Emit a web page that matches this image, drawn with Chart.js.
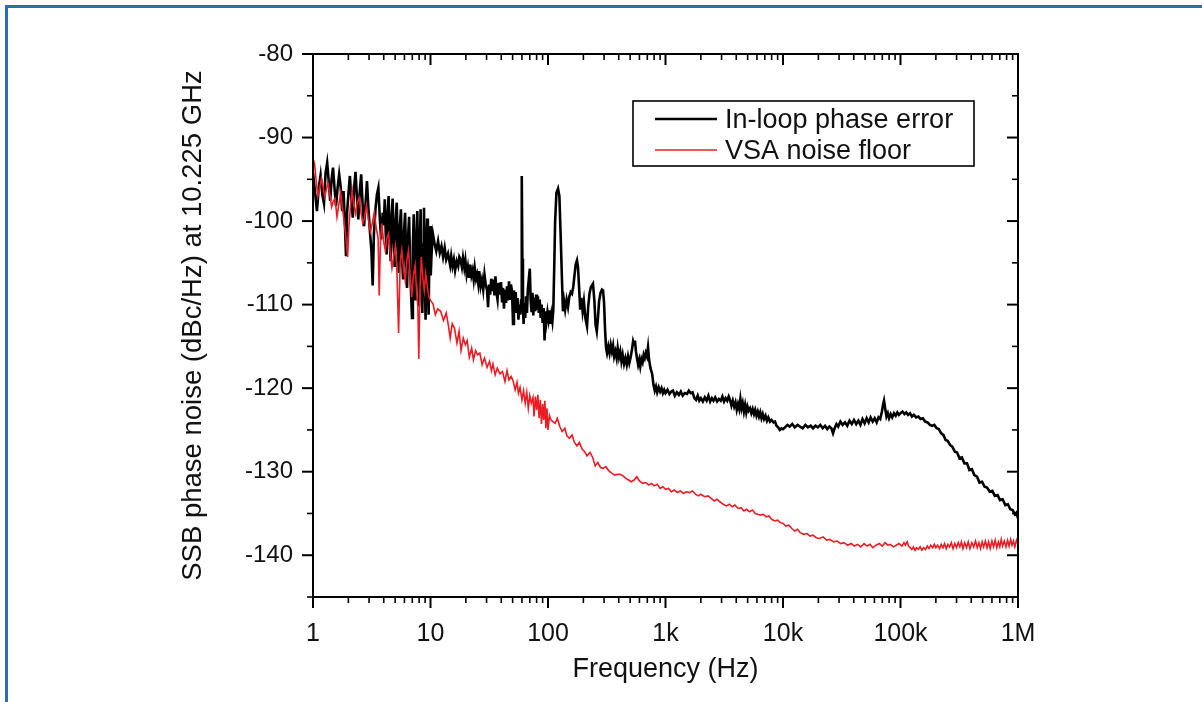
<!DOCTYPE html>
<html>
<head>
<meta charset="utf-8">
<title>SSB phase noise</title>
<script src="https://cdn.jsdelivr.net/npm/chart.js@4.4.1/dist/chart.umd.min.js"></script>
<style>
  html, body { margin: 0; padding: 0; background: #fff; }
  #wrap { width: 1202px; height: 702px; position: relative; }
</style>
</head>
<body>
<div id="wrap"><canvas id="c" width="1202" height="702"></canvas></div>
<script>
// In-loop phase error: frequency (Hz) and SSB phase noise (dBc/Hz)
const loopFreq = [
  1.00, 1.04, 1.08, 1.12, 1.16, 1.20, 1.24, 1.28, 1.32, 1.36, 1.40, 1.44, 1.48, 1.52, 1.57, 1.62, 1.67, 1.72, 1.77, 1.82,
  1.87, 1.91, 1.95, 2.00, 2.06, 2.12, 2.18, 2.24, 2.30, 2.36, 2.43, 2.50, 2.57, 2.64, 2.72, 2.80, 2.88, 2.96, 3.05, 3.14,
  3.22, 3.30, 3.40, 3.50, 3.60, 3.70, 3.80, 3.92,
  4.00, 4.08, 4.16, 4.24, 4.32, 4.40, 4.49, 4.58, 4.67, 4.76, 4.86, 4.96, 5.06, 5.16, 5.27, 5.38, 5.49, 5.60, 5.72, 5.84,
  5.96, 6.08, 6.20, 6.32, 6.45, 6.58, 6.71, 6.84, 6.96, 7.08, 7.20, 7.33, 7.46, 7.59, 7.72, 7.85, 7.98, 8.11, 8.24, 8.38,
  8.52, 8.66, 8.80, 8.94, 9.08, 9.22, 9.36, 9.50, 9.64, 9.78, 9.92, 10.05, 10.2, 10.5,
  10.8, 11.2, 11.6, 12.0, 12.4, 12.8, 13.2, 13.6, 14.1, 14.7, 15.0, 15.4, 15.8, 16.2, 16.7, 17.2, 17.6, 18.0, 18.5, 18.9,
  19.4, 19.8, 20.3, 20.8, 21.3, 21.8, 22.3, 22.8, 23.3, 23.8, 24.4, 24.9, 25.5, 26.0, 26.7, 27.4, 28.1, 28.8, 29.5, 30.3,
  30.9, 31.5, 32.2, 32.9, 33.5, 34.2, 35.0, 35.7, 36.4, 37.2, 38.0, 39.0, 39.8, 40.6, 41.4, 42.2, 43.0, 43.9, 44.8, 45.7,
  46.6, 47.5, 48.4, 49.4, 50.4, 51.3, 52.2, 53.1, 54.1, 55.0, 56.0, 57.0, 58.0, 59.0, 59.6, 60.0, 60.5, 61.2, 62.0, 63.0,
  64.0, 65.0, 66.2, 67.4, 68.6, 70.0, 71.2, 72.5, 73.8, 75.0, 76.4, 77.8, 79.2, 80.6, 82.0, 83.5, 85.0, 86.6, 88.2, 90.0,
  91.8, 93.5, 95.2, 97.0, 99.0, 101, 103, 105, 107, 109, 111, 113, 115, 118, 121.7, 125, 128, 131.5, 134, 137,
  140, 144, 148, 152, 156, 160, 164, 168, 172, 176.5, 180, 184, 188, 192, 197, 202, 208, 214.8, 220, 226,
  232, 241.5, 248, 254, 260, 266.5, 272, 280, 288, 294, 300, 306, 312, 318, 326, 334, 342, 350, 358, 366,
  375, 384, 392, 402, 412, 422, 432, 444, 456, 468, 480, 492, 505, 518, 530, 540, 550, 560, 572, 585,
  598, 610, 624, 638, 652, 666, 680, 695, 710, 725, 745, 770, 790, 810, 830, 850, 875, 900, 925, 950,
  975, 1000, 1040, 1080, 1120, 1158, 1200, 1250, 1300, 1350, 1400, 1460, 1524, 1580, 1640, 1700, 1760, 1820, 1880, 1940,
  2000, 2080, 2160, 2240, 2320, 2400, 2480, 2560, 2650, 2750, 2850, 2950, 3050, 3150, 3250, 3350, 3450, 3540, 3640, 3740,
  3840, 3940, 4040, 4140, 4240, 4340, 4440, 4540, 4650, 4760, 4870, 4980, 5100, 5240, 5380, 5520, 5660, 5800, 5950, 6100,
  6250, 6400, 6560, 6720, 6900, 7100, 7300, 7500, 7750, 8000, 8300, 8550, 8800, 9100, 9400, 9700, 10000, 10400, 10900, 11400,
  12000, 12600, 13300, 13960, 14700, 15500, 16300, 17200, 18000, 18900, 19800, 20800, 21800, 22800, 23800, 24800, 25800, 26650, 27500, 28500,
  29500, 30800, 32200, 33700, 35200, 36800, 38500, 40200, 42000, 43800, 45600, 47500, 49500, 51500, 53600, 55700, 58000, 60300, 62700, 65000,
  67200, 69500, 71000, 72400, 74000, 76000, 78000, 80000, 82500, 85000, 88000, 91000, 94000, 97000, 100000, 104000, 108000, 112000, 116000, 120500,
  125000, 130000, 136000, 142000, 148000, 155000, 162000, 170000, 178000, 186000, 194000, 203000, 212000, 222000, 232000, 242000, 252000, 264000, 276000, 290000,
  303000, 318000, 333000, 350000, 368000, 386000, 405000, 425000, 448000, 470000, 495000, 520000, 545000, 575000, 605000, 635000, 670000, 703000, 740000, 780000,
  820000, 860000, 900000, 940000, 970000, 1000000
];
const loopDb = [
  -94.2, -96.5, -98.8, -96.0, -94.5, -96.8, -97.9, -94.2, -93.0, -95.2, -97.6, -95.0, -93.6, -95.8, -98.2, -96.0, -94.4, -95.9, -98.8, -96.4,
  -100.5, -104.2, -99.0, -96.8, -94.6, -97.2, -99.6, -96.0, -94.1, -96.9, -99.8, -96.5, -94.4, -97.8, -100.6, -98.0, -95.2, -98.4, -101.2, -103.5,
  -107.7, -101.5, -98.6, -96.8, -96.0, -99.5, -102.2, -99.0,
  -100.5, -97.4, -101.5, -104.0, -99.0, -97.0, -101.8, -104.8, -99.5, -97.3, -102.5, -105.5, -99.8, -97.8, -103.0, -106.2, -100.6, -98.6, -104.0, -107.0,
  -101.2, -99.0, -104.5, -108.0, -101.8, -99.5, -105.5, -108.8, -111.6, -103.0, -99.2, -104.8, -109.5, -102.5, -98.8, -105.0, -110.2, -103.0, -98.6, -106.0,
  -111.0, -102.8, -98.4, -106.5, -111.8, -103.4, -99.7, -107.2, -111.2, -104.0, -100.6, -106.5, -104.0, -101.6,
  -102.6, -103.6, -102.4, -103.8, -103.0, -104.3, -103.2, -104.6, -103.9, -105.3, -104.2, -105.4, -104.6, -105.9, -104.8, -105.4, -104.3, -104.6, -105.5, -104.4,
  -105.6, -104.7, -106.4, -105.5, -106.8, -105.2, -106.5, -105.9, -107.0, -105.6, -106.9, -106.4, -107.5, -106.0, -107.8, -107.0, -108.2, -106.4, -107.6, -108.3,
  -110.3, -107.6, -108.8, -106.9, -108.4, -107.0, -108.9, -106.6, -108.5, -109.4, -107.4, -108.8, -107.3, -109.6, -108.0, -110.5, -108.2, -109.8, -107.8, -109.5,
  -107.2, -109.3, -107.6, -108.4, -112.3, -108.3, -110.6, -108.5, -111.0, -109.2, -111.8, -110.0, -111.2, -109.5, -104.0, -94.6, -104.5, -110.5, -112.3, -109.8,
  -111.6, -109.0, -111.0, -108.2, -107.0, -105.7, -109.5, -110.9, -108.6, -111.3, -109.2, -110.8, -108.8, -110.6, -109.0, -111.0, -109.4, -111.6, -110.0, -112.2,
  -110.4, -114.3, -110.8, -112.0, -110.9, -111.8, -110.7, -112.3, -111.2, -112.0, -110.6, -105.5, -100.0, -96.6, -96.1, -97.0, -101.5, -107.0, -110.8, -109.6,
  -110.6, -109.4, -110.3, -109.0, -108.5, -108.7, -107.9, -106.5, -105.2, -104.7, -105.5, -108.0, -110.6, -109.2, -110.8, -109.6, -111.6, -112.6, -110.2, -108.6,
  -107.9, -107.5, -109.5, -112.4, -113.2, -111.5, -109.6, -108.6, -108.2, -108.3, -109.8, -113.0, -115.2, -115.8, -115.0, -115.8, -114.8, -115.6, -114.9, -116.2,
  -115.6, -116.4, -115.2, -116.3, -115.6, -116.8, -116.0, -117.1, -116.4, -117.2, -116.2, -117.0, -116.3, -115.4, -114.4, -114.8, -114.3, -115.6, -116.4, -117.2,
  -116.6, -117.4, -116.5, -116.9, -116.0, -116.4, -115.8, -116.2, -115.1, -116.6, -117.6, -118.3, -119.6, -120.3, -119.8, -120.5, -119.9, -120.4, -120.0, -120.6,
  -120.2, -120.6, -120.2, -120.7, -120.4, -120.3, -120.9, -120.5, -120.8, -120.4, -120.9, -120.6, -120.7, -120.3, -120.6, -120.5, -121.2, -121.4, -120.9, -121.5,
  -121.2, -121.6, -121.1, -121.5, -120.9, -121.6, -121.2, -121.5, -121.1, -121.6, -121.3, -121.5, -121.0, -121.6, -121.2, -121.5, -121.0, -121.4, -122.1, -121.5,
  -122.2, -121.7, -122.6, -121.9, -122.5, -121.3, -122.4, -121.8, -122.8, -122.0, -122.9, -122.2, -122.7, -122.4, -123.0, -122.5, -123.1, -122.6, -123.3, -122.8,
  -123.4, -122.9, -123.6, -123.1, -123.7, -123.3, -123.9, -123.5, -124.0, -123.8, -124.1, -124.0, -124.5, -124.7, -125.0, -124.8, -124.9, -124.7, -124.4, -124.6,
  -124.3, -124.7, -124.4, -124.6, -124.8, -124.4, -124.7, -124.5, -124.8, -124.5, -124.7, -124.4, -124.8, -124.5, -124.9, -124.6, -124.8, -125.4, -124.8, -124.3,
  -124.6, -124.0, -124.4, -124.1, -124.5, -123.9, -124.3, -123.8, -124.3, -123.9, -124.4, -123.7, -124.2, -123.6, -124.1, -123.5, -124.0, -123.6, -124.1, -123.5,
  -123.7, -122.8, -122.0, -121.5, -122.4, -123.4, -123.0, -123.6, -123.1, -123.5, -123.0, -123.3, -122.9, -123.2, -123.0, -122.8, -123.1, -122.9, -123.2, -123.0,
  -123.4, -123.2, -123.5, -123.4, -123.7, -123.6, -124.0, -124.1, -124.4, -124.5, -124.4, -124.8, -124.9, -125.4, -125.6, -126.2, -126.3, -126.8, -127.0, -127.6,
  -127.7, -128.4, -128.3, -129.0, -129.0, -129.8, -129.7, -130.4, -130.6, -131.3, -131.2, -131.8, -131.9, -132.4, -132.3, -132.9, -132.8, -133.4, -133.3, -134.0,
  -133.9, -134.5, -134.6, -135.1, -134.9, -135.6
];

// VSA noise floor: frequency (Hz) and SSB phase noise (dBc/Hz)
const floorFreq = [
  1.00, 1.03, 1.07, 1.10, 1.14, 1.18, 1.22, 1.26, 1.30, 1.34, 1.39, 1.44, 1.49, 1.54, 1.60, 1.66, 1.72, 1.78, 1.85, 1.92,
  1.97, 2.02, 2.08, 2.15, 2.22, 2.30, 2.38, 2.47, 2.56, 2.65, 2.75, 2.85, 2.96, 3.08, 3.20, 3.32, 3.45, 3.58, 3.66, 3.75,
  3.85, 3.98, 4.12, 4.26, 4.40, 4.55, 4.70, 4.86, 5.02, 5.18, 5.35, 5.52, 5.70, 5.90, 6.10, 6.30, 6.50, 6.70, 6.92, 7.15,
  7.40, 7.60, 7.80, 7.95, 8.15, 8.35, 8.60, 8.85, 9.10, 9.40, 9.70,
  10.0, 10.5, 11.0, 11.5, 12.2, 12.9, 13.6, 14.2, 14.7, 15.3, 16.0, 16.8, 17.5, 18.2, 19.0, 19.8, 20.5, 21.4, 22.4, 23.2,
  24.2, 25.2, 26.3, 27.5, 28.8, 30.3, 31.8, 33.0, 34.0, 35.5, 37.0, 39.0, 41.0, 43.0, 44.8, 46.5, 48.5, 50.4, 52.5, 54.5,
  56.0, 57.8, 60.0, 62.0, 64.0, 66.0, 68.0, 70.0, 72.0, 74.5, 76.0, 78.0, 80.0, 82.0, 84.0, 86.0, 88.0, 90.0, 92.0, 94.0,
  96.0, 98.0, 100, 103, 106, 110, 115, 120, 126, 132, 139, 145, 152, 160, 168, 176, 185, 195, 205, 215,
  228, 240, 252, 265, 280, 295, 310, 330, 350, 370, 390, 410, 435, 460, 485, 510, 540, 570, 600, 640,
  680, 720, 760, 800, 850, 900, 950, 1000, 1060, 1120, 1190, 1260, 1340, 1420, 1500, 1600, 1700, 1800, 1900, 2000,
  2150, 2300, 2450, 2600, 2750, 2900, 3100, 3300, 3500, 3700, 3900, 4150, 4400, 4650, 4900, 5200, 5500, 5800, 6100, 6450,
  6800, 7200, 7600, 8000, 8500, 9000, 9500, 10000, 10600, 11200, 11900, 12600, 13300, 14000, 15000, 16000, 17000, 18000, 19200, 20500,
  22000, 23500, 25000, 27000, 29000, 31000, 33000, 35500, 38000, 40500, 43000, 46000, 49000, 52000, 55000, 58000, 62000, 66000, 70000, 74000,
  78000, 82000, 87000, 92000, 97000,
  103000, 107000, 110000, 114000, 117000, 121000, 125000, 129000, 133000, 137000, 142000, 147000, 152000, 157000, 163000, 169000, 175000, 181000, 188000, 194000,
  200000, 207000, 215000, 222000, 230000, 237000, 245000, 253000, 262000, 271000, 280000, 290000, 300000, 310000, 320000, 330000, 340000, 352000, 365000, 377000,
  390000, 405000, 420000, 435000, 450000, 465000, 480000, 495000, 510000, 528000, 545000, 562000, 580000, 600000, 620000, 640000, 660000, 680000, 700000, 720000,
  740000, 765000, 790000, 815000, 840000, 865000, 890000, 915000, 940000, 970000, 1000000
];
const floorDb = [
  -92.5, -93.1, -95.5, -97.0, -96.0, -94.9, -96.0, -97.1, -96.2, -95.4, -96.8, -98.3, -97.6, -97.3, -99.5, -98.0, -96.6, -98.4, -100.3, -102.5,
  -104.3, -100.7, -98.4, -96.3, -98.0, -99.1, -97.8, -97.2, -98.9, -100.3, -99.6, -98.1, -99.8, -101.3, -100.2, -99.0, -100.8, -102.0, -108.9, -102.5,
  -100.3, -102.3, -103.5, -102.0, -101.5, -103.8, -105.6, -104.2, -103.0, -106.0, -113.4, -105.0, -103.5, -105.8, -107.2, -104.6, -103.5, -106.4, -109.1, -106.5,
  -105.3, -108.3, -110.2, -116.5, -107.8, -104.3, -106.8, -108.3, -106.3, -107.8, -109.1,
  -109.5, -109.9, -111.2, -110.5, -110.8, -111.9, -111.0, -112.5, -114.0, -112.3, -112.8, -114.6, -113.2, -115.5, -114.0, -114.8, -114.3, -116.3, -115.2, -116.6,
  -115.5, -116.0, -115.8, -117.2, -116.4, -117.5, -116.8, -117.9, -117.1, -118.4, -117.6, -118.3, -118.0, -119.2, -117.9, -119.0, -118.6, -119.1, -120.2, -119.3,
  -120.6, -119.9, -121.4, -120.3, -121.8, -120.5, -122.4, -120.9, -121.8, -121.1, -123.4, -121.0, -122.6, -120.8, -123.6, -121.4, -124.3, -121.9, -123.8, -121.5,
  -124.8, -122.4, -125.0, -123.3, -123.8, -124.0, -124.2, -123.6, -124.6, -125.2, -124.8, -125.7, -126.0, -125.6, -126.5, -126.9, -126.5, -127.3, -127.6, -128.1,
  -127.7, -128.3, -129.3, -128.9, -129.5, -129.6, -129.4, -129.9, -130.2, -130.4, -130.3, -130.3, -130.5, -130.8, -131.0, -131.2, -131.0, -130.6, -131.1, -131.4,
  -131.3, -131.6, -131.4, -131.7, -131.5, -132.0, -131.8, -132.1, -132.0, -132.4, -132.2, -132.5, -132.3, -132.6, -132.4, -132.5, -132.3, -132.7, -132.9, -132.7,
  -133.0, -132.9, -133.2, -133.5, -133.3, -133.6, -133.9, -134.1, -133.9, -134.2, -134.0, -134.4, -134.3, -134.7, -134.5, -134.8, -134.6, -135.0, -135.1, -135.2,
  -135.1, -135.4, -135.3, -135.7, -135.9, -135.8, -136.1, -136.2, -136.5, -136.4, -136.8, -137.1, -136.9, -137.3, -137.5, -137.4, -137.7, -137.6, -137.9, -138.0,
  -137.8, -138.2, -138.1, -138.4, -138.3, -138.6, -138.5, -138.8, -138.6, -138.9, -138.7, -139.0, -138.6, -138.9, -138.7, -139.1, -138.8, -138.6, -138.9, -138.5,
  -138.8, -138.7, -139.0, -138.8, -138.6,
  -138.9, -138.5, -138.8, -138.4, -138.9, -139.1, -139.3, -139.0, -139.4, -139.1, -139.3, -139.0, -139.4, -139.1, -139.3, -138.9, -139.2, -138.8, -139.1, -138.7,
  -139.1, -138.8, -139.2, -138.7, -139.1, -138.6, -139.2, -138.7, -139.0, -138.5, -139.2, -138.6, -139.1, -138.5, -139.0, -138.4, -139.2, -138.5, -139.1, -138.4,
  -139.2, -138.5, -139.0, -138.3, -139.1, -138.5, -139.2, -138.4, -139.0, -138.3, -139.1, -138.4, -139.2, -138.3, -139.0, -138.2, -139.1, -138.4, -139.0, -138.1,
  -138.9, -138.3, -139.0, -138.2, -138.9, -138.1, -138.8, -138.3, -139.0, -138.2, -138.7
];

// Axis ticks and labels
const freqTicks = [1, 10, 100, 1000, 10000, 100000, 1000000];
const freqTickLabels = ['1', '10', '100', '1k', '10k', '100k', '1M'];
const dbTicks = [-140, -130, -120, -110, -100, -90, -80];
const dbMinorTicks = [-145, -135, -125, -115, -105, -95, -85];
const seriesNames = ['In-loop phase error', 'VSA noise floor'];
const seriesColors = ['#000000', '#ec1c24'];
const seriesWidths = [2.6, 1.6];

const FONT = '"Liberation Sans", Arial, Helvetica, sans-serif';

const toPoints = (fs, ys) => fs.map((f, i) => ({ x: f, y: ys[i] }));

// Page frame, plot box, tick marks on all four sides, and the boxed legend
const decorations = {
  id: 'decorations',
  beforeDraw(chart) {
    const ctx = chart.ctx;
    ctx.save();
    ctx.fillStyle = '#ffffff';
    ctx.fillRect(0, 0, chart.width, chart.height);
    ctx.fillStyle = '#2a6db3';
    ctx.fillRect(5, 5, chart.width - 5, 3);
    ctx.fillRect(5, 5, 3, chart.height - 5);
    ctx.restore();
  },
  afterDraw(chart) {
    const { ctx, chartArea: a, scales } = chart;
    const xs = scales.x, ys = scales.y;
    ctx.save();
    ctx.strokeStyle = '#000';
    ctx.lineCap = 'butt';
    const seg = (x1, y1, x2, y2, w) => {
      ctx.lineWidth = w;
      ctx.beginPath();
      ctx.moveTo(x1, y1);
      ctx.lineTo(x2, y2);
      ctx.stroke();
    };
    // frequency axis: outward ticks at the bottom, inward at the top
    freqTicks.forEach((d, k) => {
      const px = xs.getPixelForValue(d);
      seg(px, a.bottom, px, a.bottom + 11, 2);
      seg(px, a.top, px, a.top + 11, 2);
      if (k < freqTicks.length - 1) {
        for (let m = 2; m <= 9; m++) {
          const mx = xs.getPixelForValue(m * d);
          seg(mx, a.bottom, mx, a.bottom + 6, 1.6);
          seg(mx, a.top, mx, a.top + 6, 1.6);
        }
      }
    });
    // noise axis: outward ticks on the left, inward on the right
    dbTicks.forEach(v => {
      const py = ys.getPixelForValue(v);
      seg(a.left - 11, py, a.left, py, 2);
      seg(a.right - 11, py, a.right, py, 2);
    });
    dbMinorTicks.forEach(v => {
      const py = ys.getPixelForValue(v);
      seg(a.left - 6, py, a.left, py, 1.6);
      seg(a.right - 6, py, a.right, py, 1.6);
    });
    // plot box
    ctx.lineWidth = 2;
    ctx.strokeRect(a.left, a.top, a.right - a.left, a.bottom - a.top);

    // legend
    const lx = 633, ly = 101, lw = 341, lh = 65;
    ctx.fillStyle = '#fff';
    ctx.fillRect(lx, ly, lw, lh);
    ctx.lineWidth = 1.6;
    ctx.strokeRect(lx, ly, lw, lh);
    const rows = [119, 150];
    const baselines = [127.5, 159];
    ctx.font = '27px ' + FONT;
    ctx.textBaseline = 'alphabetic';
    ctx.textAlign = 'left';
    seriesNames.forEach((name, i) => {
      ctx.strokeStyle = seriesColors[i];
      seg(655, rows[i], 717, rows[i], seriesWidths[i]);
      ctx.fillStyle = '#111';
      ctx.fillText(name, 725, baselines[i]);
    });
    ctx.restore();
  }
};

new Chart(document.getElementById('c'), {
  type: 'line',
  data: {
    datasets: [
      {
        label: seriesNames[0],
        data: toPoints(loopFreq, loopDb),
        borderColor: seriesColors[0],
        borderWidth: seriesWidths[0],
        pointRadius: 0,
        tension: 0,
        fill: false,
        order: 1
      },
      {
        label: seriesNames[1],
        data: toPoints(floorFreq, floorDb),
        borderColor: seriesColors[1],
        borderWidth: seriesWidths[1],
        pointRadius: 0,
        tension: 0,
        fill: false,
        order: 0
      }
    ]
  },
  options: {
    responsive: false,
    animation: false,
    devicePixelRatio: 1,
    layout: { padding: { left: 177, top: 54, right: 184, bottom: 16 } },
    plugins: { legend: { display: false }, tooltip: { enabled: false } },
    scales: {
      x: {
        type: 'logarithmic',
        min: 1,
        max: 1000000,
        afterFit: s => { s.height = 89; },
        afterBuildTicks: s => { s.ticks = freqTicks.map(v => ({ value: v })); },
        grid: { display: false, drawTicks: false },
        border: { display: false },
        ticks: {
          autoSkip: false,
          maxRotation: 0,
          padding: 22,
          color: '#111',
          font: { family: FONT, size: 25 },
          callback: (v) => {
            const i = freqTicks.indexOf(v);
            return i >= 0 ? freqTickLabels[i] : '';
          }
        },
        title: {
          display: true,
          text: 'Frequency (Hz)',
          color: '#111',
          font: { family: FONT, size: 27 },
          padding: 0
        }
      },
      y: {
        type: 'linear',
        min: -145,
        max: -80,
        afterFit: s => { s.width = 136; },
        afterBuildTicks: s => { s.ticks = dbTicks.map(v => ({ value: v })); },
        grid: { display: false, drawTicks: false },
        border: { display: false },
        ticks: {
          padding: 20,
          color: '#111',
          font: { family: FONT, size: 24 },
          callback: v => String(v)
        },
        title: {
          display: true,
          text: 'SSB phase noise (dBc/Hz) at 10.225 GHz',
          color: '#111',
          font: { family: FONT, size: 27.5 },
          padding: 0
        }
      }
    }
  },
  plugins: [decorations]
});
</script>
</body>
</html>
